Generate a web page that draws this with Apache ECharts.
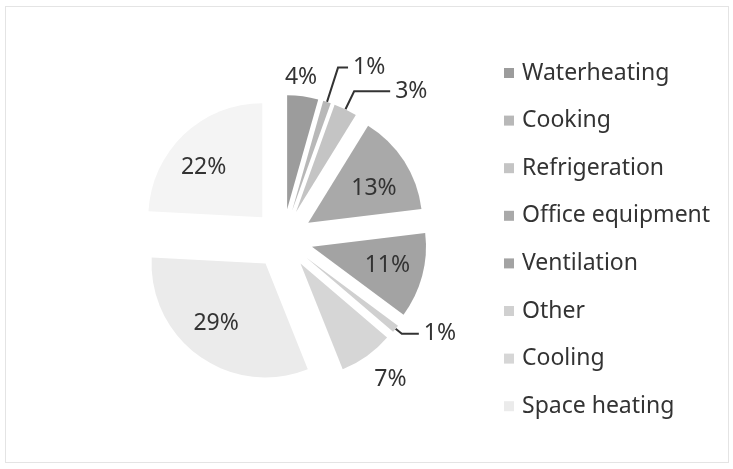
<!DOCTYPE html>
<html>
<head>
    <meta charset="UTF-8">
    <title>Energy use</title>
    <script src="https://cdn.jsdelivr.net/npm/echarts@6/dist/echarts.min.js"></script>
    <style>
        html, body { margin: 0; padding: 0; background: #fff; }
        #main {
            position: absolute;
            left: 5px; top: 6px;
            width: 722px; height: 455px;
            border: 1px solid #e4e4e4;
        }
    </style>
</head>
<body>
    <div id="main"></div>
    <script>
        // slices clockwise from 12 o'clock
        var names = ['Waterheating', 'Cooking', 'Refrigeration', 'Office equipment', 'Ventilation', 'Other', 'Cooling', 'Space heating', 'Lighting'];
        var values = [4, 1, 3, 13, 11, 1, 7, 29, 22];
        var colors = ['#9c9c9c', '#b8b8b8', '#c4c4c4', '#a9a9a9', '#a3a3a3', '#d0d0d0', '#d6d6d6', '#ebebeb', '#f4f4f4'];
        var legendNames = names.slice(0, 8);
        // label placement per slice
        var labelPos = ['outside', 'outside', 'outside', 'inside', 'inside', 'outside', 'outside', 'inside', 'inside'];
        var showLine = [false, true, true, false, false, true, false, false, false];
        var lineLen = [8, 36, 20, 10, 10, 8, 30, 10, 10];
        var lineLen2 = [0, 10, 36, 10, 10, 17, 0, 10, 10];
        // small nudges for labels
        var nudgeX = [-24, 0, 0, 0, 0, 0, -15, -4, -5];
        var nudgeY = [-11, 0, 0, 8, -1, 0, -1, -3, 7];

        var total = values.reduce(function (a, b) { return a + b; }, 0);
        var midAngle = [];
        var acc = 0;
        values.forEach(function (v) {
            midAngle.push((acc + v / 2) / total * 2 * Math.PI);
            acc += v;
        });

        var chart = echarts.init(document.getElementById('main'));

        var data = names.map(function (n, i) {
            return {
                name: n,
                value: values[i],
                selected: true,
                itemStyle: { color: colors[i] },
                label: { position: labelPos[i] },
                labelLine: { show: showLine[i], length: lineLen[i], length2: lineLen2[i] }
            };
        });

        var option = {
            animation: false,
            legend: {
                orient: 'vertical',
                left: 493,
                top: 49.5,
                data: legendNames,
                icon: 'rect',
                itemWidth: 10,
                itemHeight: 10,
                itemGap: 24.6,
                textStyle: { fontFamily: 'Noto Sans', fontSize: 23, color: '#333', padding: [0, 0, 0, 3] }
            },
            series: [{
                type: 'pie',
                center: [277, 232],
                radius: 114,
                startAngle: 90,
                clockwise: true,
                selectedMode: 'multiple',
                selectedOffset: 30,
                avoidLabelOverlap: false,
                emphasis: { scale: false },
                label: {
                    formatter: function (p) { return p.value + '%'; },
                    fontFamily: 'Noto Sans',
                    fontSize: 23,
                    color: '#333'
                },
                labelLine: {
                    lineStyle: { color: '#333', width: 2 }
                },
                labelLayout: function (p) {
                    var i = p.dataIndex;
                    var dx = nudgeX[i], dy = nudgeY[i];
                    if (labelPos[i] === 'inside') {
                        // push inner labels further out along the slice
                        dx += Math.sin(midAngle[i]) * 18;
                        dy -= Math.cos(midAngle[i]) * 18;
                    }
                    return { dx: dx, dy: dy };
                },
                data: data
            }]
        };
        chart.setOption(option);
    </script>
</body>
</html>
